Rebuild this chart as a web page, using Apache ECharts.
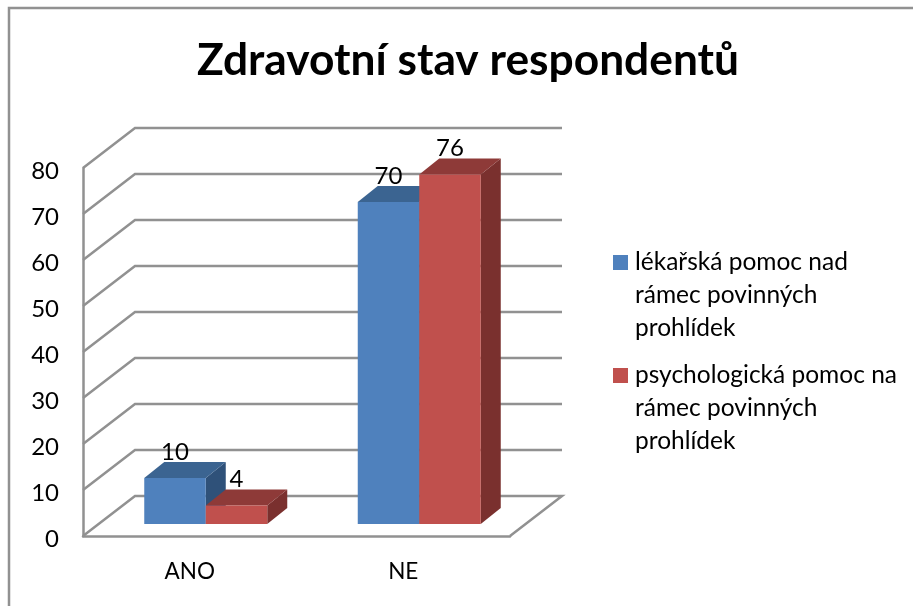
<!DOCTYPE html>
<html>
<head>
<meta charset="utf-8">
<title>Zdravotní stav respondentů</title>
<script src="https://cdn.jsdelivr.net/npm/echarts@6/dist/echarts.min.js"></script>
<style>
  html, body { margin: 0; padding: 0; background: #fff; }
  #chart { width: 913px; height: 606px; }
</style>
</head>
<body>
<div id="chart"></div>
<script>
const TITLE = 'Zdravotní stav respondentů'
const CATEGORIES = ['ANO', 'NE']
const SERIES_NAMES = [
  'lékařská pomoc nad\nrámec povinných\nprohlídek',
  'psychologická pomoc na\nrámec povinných\nprohlídek'
]
const MEDICAL_VALUES = [10, 70]
const PSYCHOLOGICAL_VALUES = [4, 76]
const GRID_VALUES = [0, 10, 20, 30, 40, 50, 60, 70, 80]

// fake 3d: pixel offsets of the back wall and of the bars from the axis plane
const WALL_DX = 52
const WALL_DY = -40
const BAR_DX = 16
const BAR_DY = -12
const DEPTH_DX = 20
const DEPTH_DY = -16
const BAR_WIDTH = 61.5

const FONT = 'Lato'
const LINE_COLOR = '#919191'
const LINE_WIDTH = 2.5

const FACES = [
  { front: '#4f81bd', top: '#3b6491', side: '#2f5179' },
  { front: '#c0504d', top: '#8e3a38', side: '#7a302e' }
]

let renderWall = (params, api) => {
  let box = params.coordSys
  let y = api.coord([0, api.value(0)])[1]
  let points = [
    [box.x, y],
    [box.x + WALL_DX, y + WALL_DY],
    [box.x + box.width + WALL_DX, y + WALL_DY]
  ]
  // the floor also closes on the right side
  if (params.dataIndex === 0) {
    points.push([box.x + box.width, y])
  }
  return {
    type: 'polyline',
    shape: { points: points },
    style: { stroke: LINE_COLOR, lineWidth: LINE_WIDTH, fill: null }
  }
}

let renderBar = (seriesIdx) => (params, api) => {
  let face = FACES[seriesIdx]
  let top = api.coord([api.value(0), api.value(1)])
  let base = api.coord([api.value(0), 0])
  let x0 = top[0] + BAR_DX - BAR_WIDTH + seriesIdx * BAR_WIDTH
  let x1 = x0 + BAR_WIDTH
  let yTop = top[1] + BAR_DY
  let yBase = base[1] + BAR_DY

  return {
    type: 'group',
    children: [
      {
        type: 'polygon',
        shape: { points: [[x1, yTop], [x1 + DEPTH_DX, yTop + DEPTH_DY], [x1 + DEPTH_DX, yBase + DEPTH_DY], [x1, yBase]] },
        style: { fill: face.side }
      },
      {
        type: 'polygon',
        shape: { points: [[x0, yTop], [x0 + DEPTH_DX, yTop + DEPTH_DY], [x1 + DEPTH_DX, yTop + DEPTH_DY], [x1, yTop]] },
        style: { fill: face.top }
      },
      {
        type: 'rect',
        shape: { x: x0, y: yTop, width: BAR_WIDTH, height: yBase - yTop },
        style: { fill: face.front }
      },
      {
        type: 'text',
        style: {
          x: (x0 + x1) / 2,
          y: yTop - 26,
          text: String(api.value(1)),
          align: 'center',
          verticalAlign: 'middle',
          fill: '#000',
          font: '24px ' + FONT
        }
      }
    ]
  }
}

let chart = echarts.init(document.getElementById('chart'))

chart.setOption({
  backgroundColor: '#fff',
  animation: false,
  title: {
    text: TITLE,
    left: 463,
    top: 34,
    textAlign: 'center',
    textStyle: { fontFamily: FONT, fontSize: 44.3, fontWeight: 'bold', color: '#000' }
  },
  legend: {
    orient: 'vertical',
    left: 613,
    top: 180,
    padding: 0,
    height: 400,
    itemWidth: 15,
    itemHeight: 15,
    itemGap: -52,
    icon: 'rect',
    data: SERIES_NAMES,
    // blank lines keep the marker on the first line of the text
    formatter: (name) => '\n\n' + name,
    textStyle: { fontFamily: FONT, fontSize: 24.5, lineHeight: 33, color: '#000', padding: [0, 0, 0, 2] }
  },
  grid: { left: 83, top: 168, width: 427, height: 368 },
  xAxis: {
    type: 'category',
    data: CATEGORIES,
    axisTick: { show: false },
    axisLine: { lineStyle: { color: LINE_COLOR, width: LINE_WIDTH } },
    axisLabel: { margin: 24, color: '#000', fontFamily: FONT, fontSize: 22.5 }
  },
  yAxis: {
    type: 'value',
    min: 0,
    max: 80,
    interval: 10,
    splitLine: { show: false },
    axisTick: { show: false },
    axisLine: { show: true, lineStyle: { color: LINE_COLOR, width: LINE_WIDTH } },
    axisLabel: {
      margin: 24,
      formatter: '{tick|{value}}',
      rich: { tick: { color: '#000', fontFamily: FONT, fontSize: 24, padding: [6, 0, 0, 0] } }
    }
  },
  graphic: [
    {
      type: 'polyline',
      shape: { points: [[9, 606], [9, 8], [913, 8]] },
      style: { stroke: LINE_COLOR, lineWidth: LINE_WIDTH, fill: null }
    }
  ],
  series: [
    {
      name: 'walls',
      type: 'custom',
      renderItem: renderWall,
      encode: { y: 0 },
      data: GRID_VALUES.map((v) => [v]),
      z: 1,
      silent: true
    },
    {
      name: SERIES_NAMES[0],
      type: 'custom',
      renderItem: renderBar(0),
      encode: { x: 0, y: 1 },
      itemStyle: { color: FACES[0].front },
      data: MEDICAL_VALUES.map((v, i) => [i, v]),
      z: 2
    },
    {
      name: SERIES_NAMES[1],
      type: 'custom',
      renderItem: renderBar(1),
      encode: { x: 0, y: 1 },
      itemStyle: { color: FACES[1].front },
      data: PSYCHOLOGICAL_VALUES.map((v, i) => [i, v]),
      z: 3
    }
  ]
})
</script>
</body>
</html>
